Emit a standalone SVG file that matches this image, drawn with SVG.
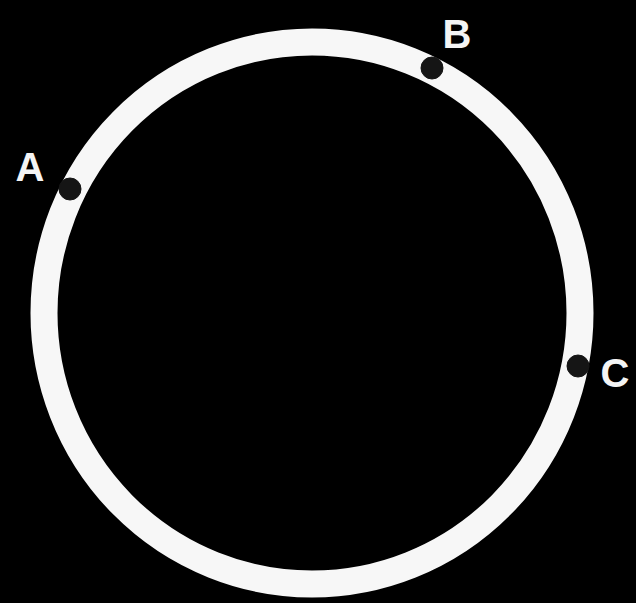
<svg xmlns="http://www.w3.org/2000/svg" width="636" height="603" viewBox="0 0 636 603">
<style>
.lbl{font-family:"Liberation Sans",Arial,sans-serif;font-weight:bold;font-size:40px;fill:#f4f4f4;text-anchor:middle}
.pt{fill:#151515;stroke:#151515;stroke-width:1}
</style>
<rect width="636" height="603" fill="#000"/>
<g id="ring"><ellipse cx="312" cy="313" rx="268" ry="271" fill="none" stroke="#f7f7f7" stroke-width="27"/></g>
<g id="A"><circle class="pt" cx="70" cy="189" r="11"/><text class="lbl" x="30" y="181">A</text></g>
<g id="B"><circle class="pt" cx="432" cy="68" r="11"/><text class="lbl" x="457" y="48">B</text></g>
<g id="C"><circle class="pt" cx="578" cy="366" r="11"/><text class="lbl" x="615" y="387">C</text></g>
</svg>
